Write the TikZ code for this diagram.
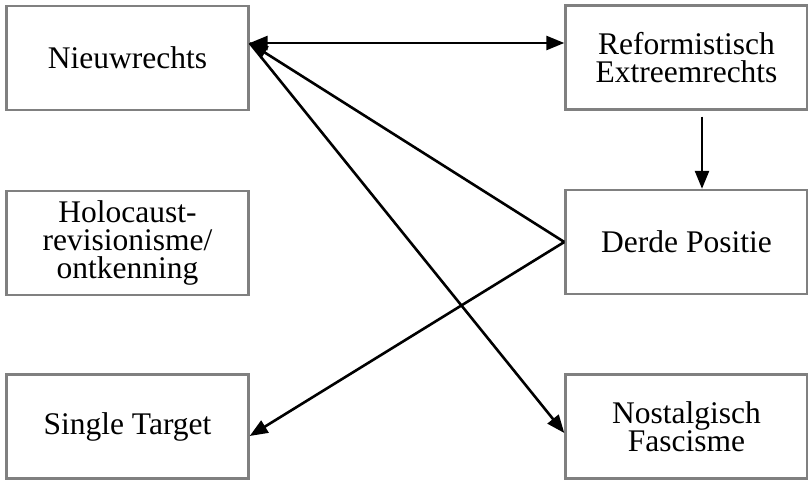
\documentclass[tikz,border=0pt]{standalone}
\usepackage{fontspec}
\setmainfont{Liberation Serif}
\usetikzlibrary{arrows.meta}
\begin{document}
\begin{tikzpicture}[x=1pt,y=-1pt,
  box/.style={draw=black!50, line width=2.4pt, minimum width=242pt, minimum height=104pt,
    align=center, inner sep=0pt, font=\fontsize{31.5}{28}\selectfont},
  tip/.tip={Triangle[length=18pt,width=14pt]},
  conn/.style={line width=2.6pt, -tip}]
\useasboundingbox (0,0) rectangle (808,481);
\fill[white] (0,0) rectangle (808,481);
\node[box] (n) at (127.5,58) {Nieuwrechts};
\node[box] (r) at (686.5,57.5) {Reformistisch\\Extreemrechts};
\node[box] (h) at (127.5,243) {Holocaust-\\revisionisme/\\ontkenning};
\node[box] (d) at (686.5,242) {Derde Positie};
\node[box] (s) at (127.5,426.5) {Single Target};
\node[box] (f) at (686.5,426.5) {Nostalgisch\\Fascisme};
\coordinate (nw) at ([yshift=15pt]n.east);
\draw[conn, tip-tip] (nw) -- (r.west |- nw);
\draw[conn, shorten <=6pt] ([xshift=15.5pt]r.south) -- ([xshift=15.5pt]d.north);
\draw[conn] (d.west) -- (nw);
\draw[conn] (nw) -- ([yshift=-6.5pt]f.west);
\draw[conn] (d.west) -- ([yshift=-9.5pt]s.east);
\end{tikzpicture}
\end{document}
